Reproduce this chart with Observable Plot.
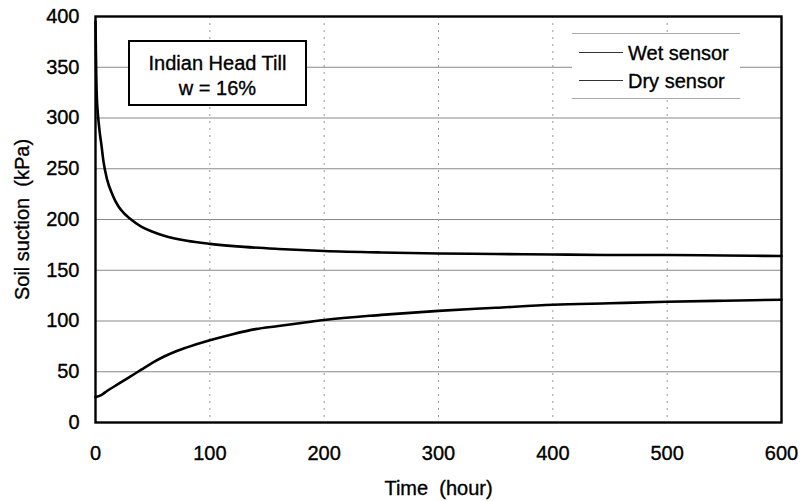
<!DOCTYPE html>
<html>
<head>
<meta charset="utf-8">
<script src="https://cdn.jsdelivr.net/npm/d3@7"></script>
<script src="https://cdn.jsdelivr.net/npm/@observablehq/plot@0.6"></script>
<style>
  html, body { margin: 0; padding: 0; background: #fff; }
  #wrap { position: relative; width: 801px; height: 501px; font-family: "Liberation Sans", Arial, sans-serif; }
  #wrap svg text { stroke: #000; stroke-width: 0.35px; }
  .note { position: absolute; left: 128px; top: 40px; width: 175px; height: 62px; border: 2px solid #000; background: #fff;
          font-size: 20px; line-height: 25px; text-align: center; -webkit-text-stroke: 0.35px #000; }
  .note div:first-child { margin-top: 9px; }
  .legend { position: absolute; left: 572px; top: 33px; width: 168px; height: 64px; background: #fff;
            border-top: 1px solid #aaa; border-bottom: 1px solid #aaa; font-size: 20px; -webkit-text-stroke: 0.35px #000; }
  .legend .row { position: absolute; left: 0; height: 24px; line-height: 24px; }
  .legend .swatch { position: absolute; left: 7px; top: 11px; width: 44px; height: 0; border-top: 1.2px solid #333; }
  .legend .lab { position: absolute; left: 56px; top: 0; white-space: nowrap; }
</style>
</head>
<body>
<div id="wrap"></div>
<script>
// ---- data ----
const seriesNames = ["Wet sensor", "Dry sensor"];
const annotationLines = ["Indian Head Till", "w = 16%"];

const timeDry = [0, 0.3, 0.7, 1.2, 2, 3, 4, 5, 7, 10, 15, 20, 25, 30, 40, 50, 60, 80, 100, 130, 160, 200, 250, 300, 350, 400, 450, 500, 550, 600];
const drySensor = [395, 370, 340, 320, 305, 293, 283, 275, 257, 240, 224, 213, 206, 201, 193, 188, 184, 179, 176, 173, 171, 169, 167.5, 166.5, 166, 165.5, 165, 165, 164.5, 164];

const timeWet = [0, 5, 10, 20, 30, 40, 50, 60, 70, 80, 100, 120, 140, 160, 180, 200, 250, 300, 350, 400, 450, 500, 550, 600];
const wetSensor = [25, 27, 31, 38, 45, 52, 59, 65, 70, 74, 81, 87, 92, 95, 98, 101, 106, 110, 113, 116, 117.5, 119, 120, 121];

const xTicks = [0, 100, 200, 300, 400, 500, 600];
const yTicks = [0, 50, 100, 150, 200, 250, 300, 350, 400];
const xLabel = "Time  (hour)";
const yLabel = "Soil suction  (kPa)";

// ---- build ----
const dry = timeDry.map((t, i) => ({t, v: drySensor[i], s: seriesNames[1]}));
const wet = timeWet.map((t, i) => ({t, v: wetSensor[i], s: seriesNames[0]}));

const chart = Plot.plot({
  width: 801,
  height: 501,
  marginLeft: 95,
  marginRight: 20,
  marginTop: 16,
  marginBottom: 79,
  style: { fontFamily: "'Liberation Sans', Arial, sans-serif", fontSize: "20px", background: "#fff", color: "#000" },
  x: { domain: [0, 600], ticks: xTicks, tickSize: 0, tickPadding: 23, label: xLabel, labelAnchor: "center", labelArrow: "none", labelOffset: 72 },
  y: { domain: [0, 400], ticks: yTicks, tickSize: 0, tickPadding: 16, label: yLabel, labelAnchor: "center", labelArrow: "none", labelOffset: 81 },
  marks: [
    Plot.gridY(yTicks.filter(d => d > 0 && d < 400), { stroke: "#888", strokeOpacity: 1, strokeWidth: 1 }),
    Plot.gridX(xTicks.filter(d => d > 0 && d < 600), { stroke: "#999", strokeOpacity: 1, strokeWidth: 1, strokeDasharray: "2,5" }),
    Plot.line(dry, { x: "t", y: "v", stroke: "#000", strokeWidth: 2.6, curve: "monotone-x" }),
    Plot.line(wet, { x: "t", y: "v", stroke: "#000", strokeWidth: 2.6, curve: "monotone-x" }),
    Plot.frame({ stroke: "#000", strokeWidth: 2.4 })
  ]
});

const wrap = document.getElementById("wrap");
wrap.appendChild(chart);

// annotation box
const note = document.createElement("div");
note.className = "note";
annotationLines.forEach(line => {
  const d = document.createElement("div");
  d.textContent = line;
  note.appendChild(d);
});
wrap.appendChild(note);

// legend box
const legend = document.createElement("div");
legend.className = "legend";
seriesNames.forEach((name, i) => {
  const row = document.createElement("div");
  row.className = "row";
  row.style.top = (7 + i * 28) + "px";
  row.innerHTML = `<span class="swatch"></span><span class="lab"></span>`;
  row.querySelector(".lab").textContent = name;
  legend.appendChild(row);
});
wrap.appendChild(legend);
</script>
</body>
</html>
